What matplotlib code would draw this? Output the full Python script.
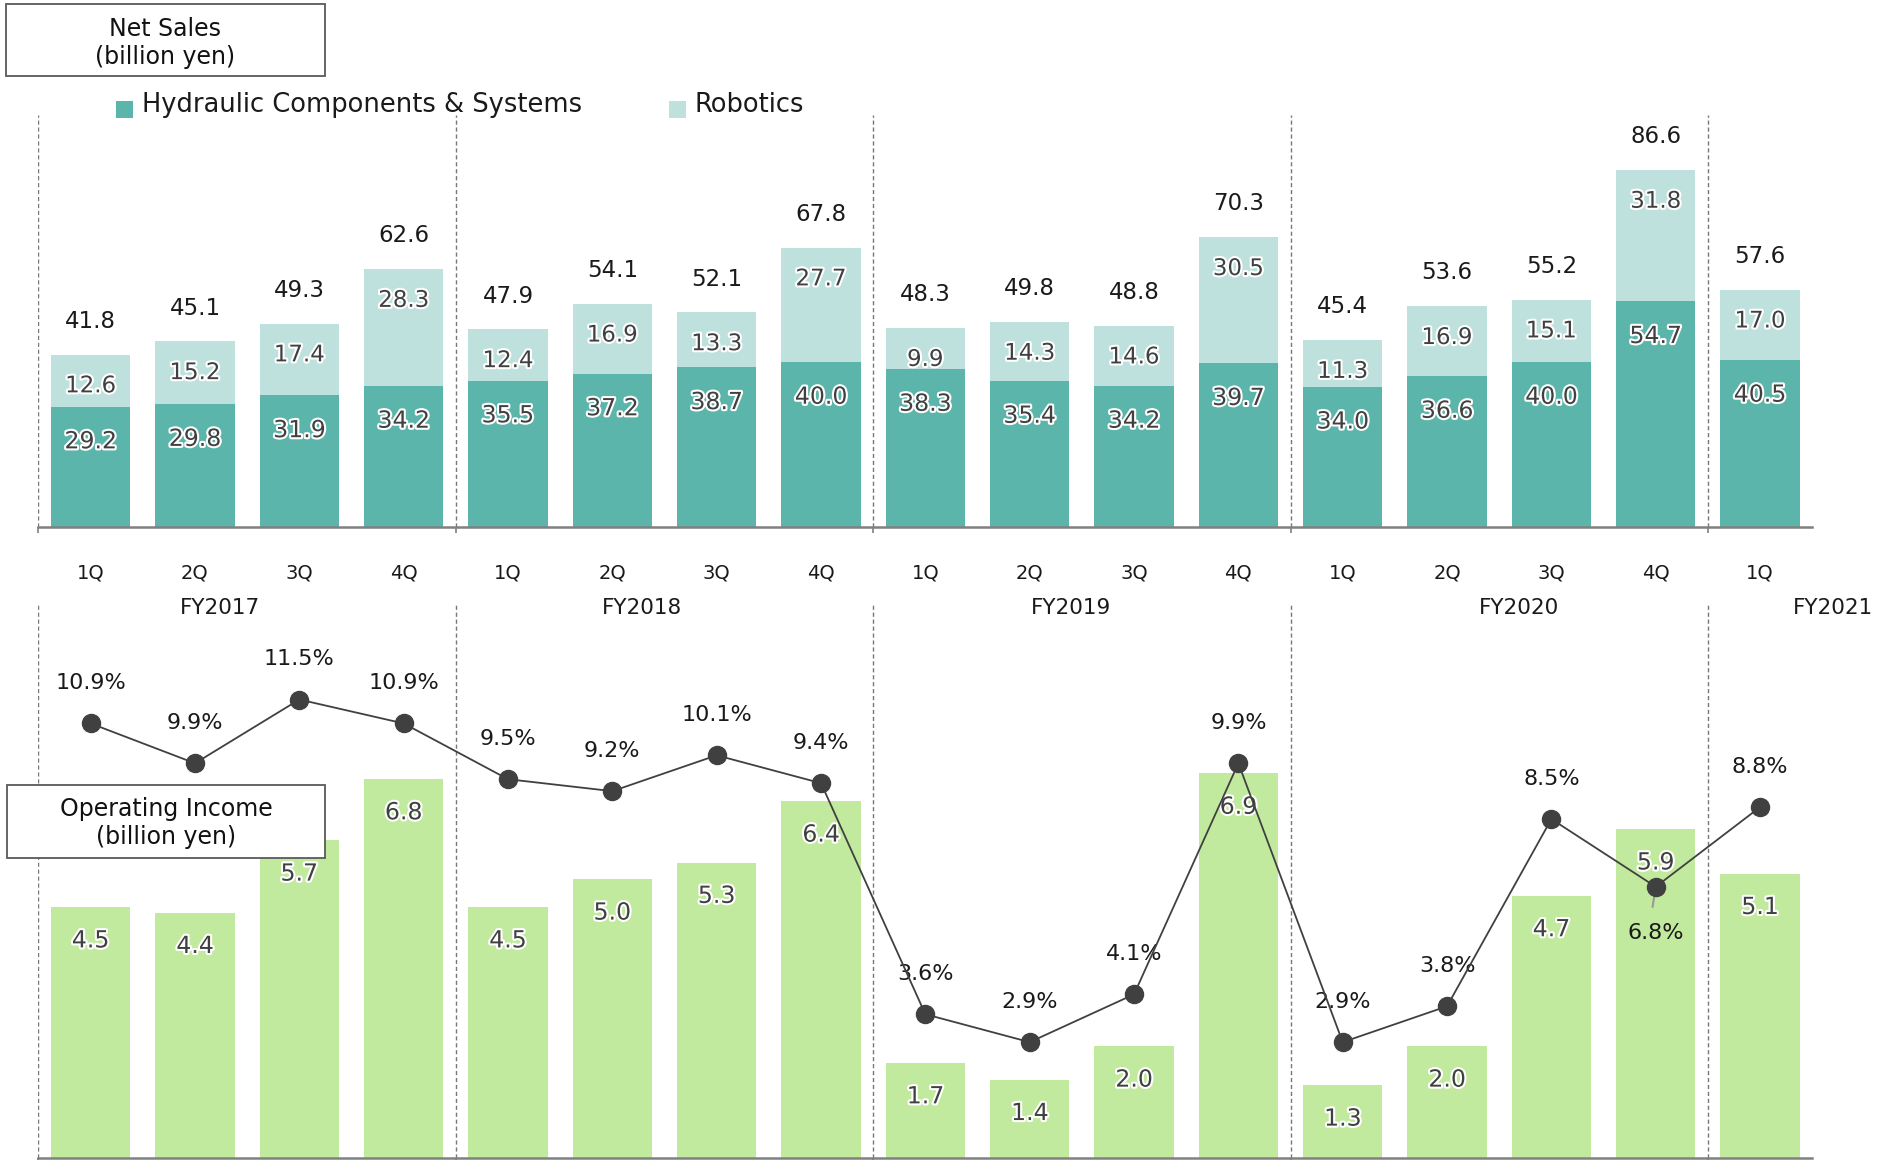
import matplotlib.pyplot as plt
import matplotlib.patheffects as pe
from matplotlib.patches import Rectangle
from matplotlib.transforms import blended_transform_factory

# quarterly data, FY2017 1Q .. FY2021 1Q
quarters = ["1Q", "2Q", "3Q", "4Q"] * 4 + ["1Q"]
fiscal_years = ["FY2017", "FY2018", "FY2019", "FY2020", "FY2021"]
fy_label_x = [1.24, 5.28, 9.40, 13.69, 16.7]

hydraulic = [29.2, 29.8, 31.9, 34.2, 35.5, 37.2, 38.7, 40.0, 38.3, 35.4, 34.2, 39.7,
             34.0, 36.6, 40.0, 54.7, 40.5]
robotics = [12.6, 15.2, 17.4, 28.3, 12.4, 16.9, 13.3, 27.7, 9.9, 14.3, 14.6, 30.5,
            11.3, 16.9, 15.1, 31.8, 17.0]
net_sales = [41.8, 45.1, 49.3, 62.6, 47.9, 54.1, 52.1, 67.8, 48.3, 49.8, 48.8, 70.3,
             45.4, 53.6, 55.2, 86.6, 57.6]
op_income = [4.5, 4.4, 5.7, 6.8, 4.5, 5.0, 5.3, 6.4, 1.7, 1.4, 2.0, 6.9,
             1.3, 2.0, 4.7, 5.9, 5.1]
op_margin = [10.9, 9.9, 11.5, 10.9, 9.5, 9.2, 10.1, 9.4, 3.6, 2.9, 4.1, 9.9,
             2.9, 3.8, 8.5, 6.8, 8.8]

C_HYD = "#5bb5aa"
C_ROB = "#bfe1dd"
C_OP = "#c2ea9e"
C_LINE = "#404040"
C_AXIS = "#808080"
C_INNER = "#404040"

plt.rcParams["font.family"] = ["DejaVu Sans"]

x = list(range(len(hydraulic)))
seps = [-0.5, 3.5, 7.5, 11.5, 15.5]
W = 0.76
glow = [pe.withStroke(linewidth=3, foreground="white")]

fig = plt.figure(figsize=(18.91, 11.60), dpi=100)

ax1 = fig.add_axes([0.02035, 0.5455, 0.938, 0.3553])
ax2 = fig.add_axes([0.02035, 0.002, 0.938, 0.4767])
ax3 = ax2.twinx()

for ax in (ax1, ax2, ax3):
    ax.patch.set_visible(False)

for ax in (ax1, ax2):
    for s in ["top", "right", "left"]:
        ax.spines[s].set_visible(False)
    ax.spines["bottom"].set_color(C_AXIS)
    ax.spines["bottom"].set_linewidth(1.8)
    ax.set_xlim(-0.5, 16.5)
    ax.set_xticks(seps)
    ax.tick_params(axis="x", length=4, width=1.2, color=C_AXIS, labelbottom=False)
    ax.set_yticks([])
    for sx in seps:
        ax.axvline(sx, color="#777777", lw=1, ls=(0, (3, 2)), zorder=0)

# --- net sales (stacked) ---
ax1.set_ylim(0, 99.8)
ax1.bar(x, hydraulic, W, color=C_HYD, zorder=2)
ax1.bar(x, robotics, W, bottom=hydraulic, color=C_ROB, zorder=2)
for i in x:
    ax1.annotate(f"{hydraulic[i]:.1f}", (i, hydraulic[i]), xytext=(0, -25),
                 textcoords="offset points", ha="center", va="center",
                 fontsize=17, color=C_INNER, path_effects=glow, zorder=4)
    ax1.annotate(f"{robotics[i]:.1f}", (i, hydraulic[i] + robotics[i]), xytext=(0, -22.5),
                 textcoords="offset points", ha="center", va="center",
                 fontsize=16.5, color=C_INNER, path_effects=glow, zorder=4)
    ax1.annotate(f"{net_sales[i]:.1f}", (i, hydraulic[i] + robotics[i]), xytext=(0, 24),
                 textcoords="offset points", ha="center", va="center",
                 fontsize=16.5, color="#1a1a1a", zorder=4)

tr = blended_transform_factory(ax1.transData, fig.transFigure)
for i, q in enumerate(quarters):
    fig.text(*tr.transform((i, 0.5057)), q, transform=None, ha="center", va="center",
             fontsize=14, color="#1a1a1a")
for fx, fy in zip(fy_label_x, fiscal_years):
    fig.text(*tr.transform((fx, 0.4755)), fy, transform=None, ha="center", va="center",
             fontsize=15.5, color="#1a1a1a")

# --- operating income + margin ---
ax2.set_ylim(0, 9.93)
ax2.bar(x, op_income, W, color=C_OP, zorder=2)
for i in x:
    ax2.annotate(f"{op_income[i]:.1f}", (i, op_income[i]), xytext=(0, -24),
                 textcoords="offset points", ha="center", va="center",
                 fontsize=17, color=C_INNER, path_effects=glow, zorder=4)

ax3.set_ylim(0, 13.88)
ax3.set_yticks([])
for s in ax3.spines.values():
    s.set_visible(False)
ax3.plot(x, op_margin, color=C_LINE, lw=1.3, marker="o", ms=13,
         markerfacecolor=C_LINE, markeredgecolor=C_LINE, zorder=5)
for i in x:
    if i == 15:
        ax3.plot([i, i - 0.03], [op_margin[i], op_margin[i] - 0.5], color="#999999", lw=1.5)
        ax3.annotate(f"{op_margin[i]:.1f}%", (i, op_margin[i]), xytext=(0, -33),
                     textcoords="offset points", ha="center", va="center",
                     fontsize=16, color="#1a1a1a")
    else:
        ax3.annotate(f"{op_margin[i]:.1f}%", (i, op_margin[i]), xytext=(0, 29),
                     textcoords="offset points", ha="center", va="center",
                     fontsize=16, color="#1a1a1a")

# --- header boxes ---
for (bx, by, bw, bh, label, ty) in [
        (0.0032, 0.9342, 0.1686, 0.0627, "Net Sales\n(billion yen)", 0.9628),
        (0.0038, 0.2602, 0.1680, 0.0627, "Operating Income\n(billion yen)", 0.2905)]:
    fig.add_artist(Rectangle((bx, by), bw, bh, transform=fig.transFigure,
                             facecolor="white", edgecolor="#595959", lw=1.3, zorder=10))
    fig.text(bx + bw / 2, ty, label, ha="center", va="center", fontsize=17,
             linespacing=1.2, color="#111111", zorder=11)

# --- legend ---
for (lx, txt, col) in [(0.0615, "Hydraulic Components & Systems", C_HYD),
                       (0.3538, "Robotics", C_ROB)]:
    fig.add_artist(Rectangle((lx, 0.8986), 0.009, 0.0146, transform=fig.transFigure,
                             facecolor=col, edgecolor="none"))
    fig.text(lx + 0.0135, 0.9091, txt, ha="left", va="center", fontsize=18.5,
             color="#1a1a1a")

fig.savefig("out.png", dpi=100)
